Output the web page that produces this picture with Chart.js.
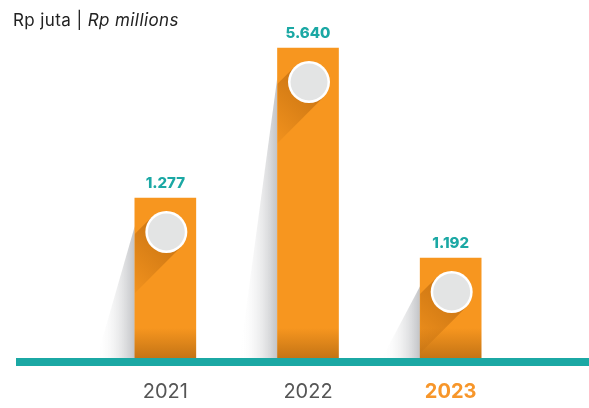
<!DOCTYPE html>
<html lang="en">
<head>
    <meta charset="UTF-8">
    <title>Rp juta</title>
    <script src="https://cdn.jsdelivr.net/npm/chart.js@4.4.1/dist/chart.umd.min.js"></script>
    <style>
        body { margin: 0; background: #fff; }
        .wrap { position: relative; width: 589px; height: 408px; }
        .unit { position: absolute; left: 13px; top: 10px; font: 17px Inter, sans-serif; letter-spacing: 0.4px; color: #222; }
        .unit i { font-style: italic; }
    </style>
</head>
<body>
    <div class="wrap">
        <canvas id="chart" width="589" height="408"></canvas>
        <div class="unit">Rp juta | <i>Rp millions</i></div>
    </div>

    <script>
        // data
        const years = ['2021', '2022', '2023'];
        const values = [1277, 5640, 1192];
        // the infographic is not drawn to scale, so bar heights are read off the picture (relative units)
        const barLevels = [1.6, 3.1, 1.0];

        const TEAL = '#1ba8a4';
        const ORANGE = '#f7961f';

        function fmt(v) {
            return String(v).replace(/\B(?=(\d{3})+(?!\d))/g, '.');
        }

        function barFill(context) {
            const chart = context.chart;
            const area = chart.chartArea;
            if (!area) return ORANGE;
            const g = chart.ctx.createLinearGradient(0, area.bottom - 30, 0, area.bottom);
            g.addColorStop(0, ORANGE);
            g.addColorStop(1, '#c47415');
            return g;
        }

        const decor = {
            id: 'decor',
            beforeDatasetsDraw(chart) {
                const ctx = chart.ctx;
                const area = chart.chartArea;
                const bars = chart.getDatasetMeta(0).data;
                ctx.save();
                // long shadows left of each bar
                bars.forEach(bar => {
                    const left = bar.x - bar.width / 2;
                    const apexY = bar.y + 34;
                    const baseX = left - 38;
                    const g = ctx.createLinearGradient(left, 0, baseX, 0);
                    g.addColorStop(0, 'rgba(178,180,184,0.8)');
                    g.addColorStop(1, 'rgba(255,255,255,0)');
                    ctx.fillStyle = g;
                    ctx.beginPath();
                    ctx.moveTo(left, apexY - 6);
                    ctx.lineTo(left, area.bottom);
                    ctx.lineTo(baseX, area.bottom);
                    ctx.closePath();
                    ctx.fill();
                });
                // baseline
                ctx.fillStyle = TEAL;
                ctx.fillRect(16, area.bottom, chart.width - 16, 8);
                ctx.restore();
            },
            afterDatasetsDraw(chart) {
                const ctx = chart.ctx;
                const area = chart.chartArea;
                const bars = chart.getDatasetMeta(0).data;
                ctx.save();
                bars.forEach((bar, i) => {
                    const left = bar.x - bar.width / 2;
                    const cx = bar.x + 1;
                    const cy = bar.y + 34;
                    const r = 21;
                    // circle shadow inside the bar
                    ctx.save();
                    ctx.beginPath();
                    ctx.rect(left, bar.y, bar.width, area.bottom - bar.y);
                    ctx.clip();
                    const d = Math.SQRT1_2;
                    const len = 75;
                    const p1 = [cx - r * d, cy - r * d];
                    const p2 = [cx + r * d, cy + r * d];
                    const g = ctx.createLinearGradient(cx, cy, cx - len * d, cy + len * d);
                    g.addColorStop(0, 'rgba(140,70,0,0.4)');
                    g.addColorStop(1, 'rgba(140,70,0,0)');
                    ctx.fillStyle = g;
                    ctx.beginPath();
                    ctx.moveTo(p1[0], p1[1]);
                    ctx.lineTo(p2[0], p2[1]);
                    ctx.lineTo(p2[0] - len * d, p2[1] + len * d);
                    ctx.lineTo(p1[0] - len * d, p1[1] + len * d);
                    ctx.closePath();
                    ctx.fill();
                    ctx.restore();
                    // circle
                    ctx.fillStyle = '#ffffff';
                    ctx.beginPath();
                    ctx.arc(cx, cy, r, 0, Math.PI * 2);
                    ctx.fill();
                    ctx.fillStyle = '#e3e4e4';
                    ctx.beginPath();
                    ctx.arc(cx, cy, r - 2.5, 0, Math.PI * 2);
                    ctx.fill();
                    // value label
                    ctx.fillStyle = TEAL;
                    ctx.font = '800 15px Inter, sans-serif';
                    ctx.textAlign = 'center';
                    ctx.textBaseline = 'middle';
                    ctx.fillText(fmt(values[i]), bar.x, bar.y - 15);
                });
                ctx.restore();
            }
        };

        new Chart(document.getElementById('chart'), {
            type: 'bar',
            data: {
                labels: years,
                datasets: [{
                    data: barLevels,
                    backgroundColor: barFill,
                    borderWidth: 0,
                    barThickness: 61
                }]
            },
            options: {
                responsive: false,
                animation: false,
                layout: { padding: { left: 94, right: 67, top: 20, bottom: 0 } },
                plugins: {
                    legend: { display: false },
                    tooltip: { enabled: false }
                },
                scales: {
                    x: {
                        grid: { display: false, drawTicks: false },
                        border: { display: false },
                        ticks: {
                            padding: 22,
                            color: ctx => ctx.index === 2 ? '#f7962a' : '#555555',
                            font: ctx => ({
                                family: 'Inter, sans-serif',
                                size: 20,
                                weight: ctx.index === 2 ? 'bold' : 'normal'
                            })
                        },
                        afterFit: scale => { scale.height = 50; }
                    },
                    y: {
                        display: false,
                        min: 0,
                        max: 3.38
                    }
                }
            },
            plugins: [decor]
        });
    </script>
</body>
</html>
